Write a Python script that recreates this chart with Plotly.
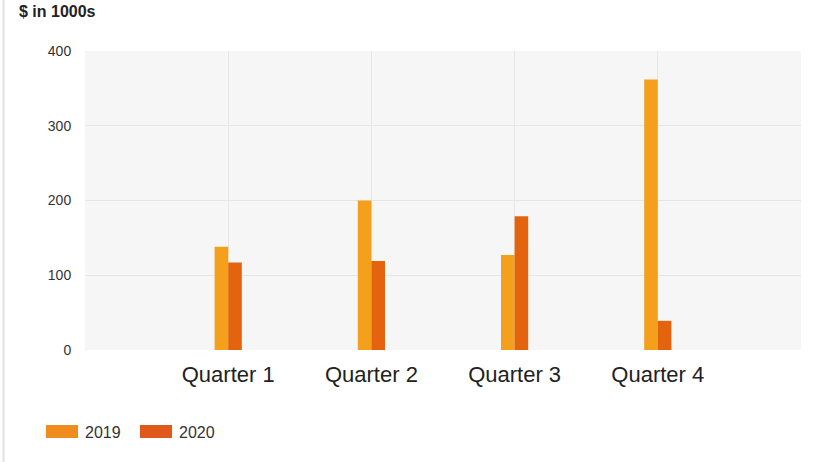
import plotly.graph_objects as go

categories = ["Quarter 1", "Quarter 2", "Quarter 3", "Quarter 4"]
series_names = ["2019", "2020"]
values_2019 = [138, 200, 127, 362]
values_2020 = [117, 119, 179, 39]
y_ticks = [0, 100, 200, 300, 400]

bar_colors = ["#F5A01C", "#E4630F"]
legend_colors = ["#F08C1E", "#E0581A"]

W, H = 833, 462
ML, MR, MT, MB = 85, 32, 51, 112
PW, PH = W - ML - MR, H - MT - MB

def px_x(x):
    return (x - ML) / PW

def px_y(y):
    return (H - MB - y) / PH

fig = go.Figure()
for name, vals, col in zip(series_names, [values_2019, values_2020], bar_colors):
    fig.add_trace(go.Bar(
        x=categories, y=vals, name=name,
        marker=dict(color=col, line=dict(width=0)),
        showlegend=False,
    ))

shapes = [
    dict(type="line", xref="paper", yref="paper",
         x0=px_x(3.5), x1=px_x(3.5), y0=px_y(0), y1=px_y(H),
         line=dict(color="#E2E2E2", width=2)),
]
annotations = [
    dict(text="<b>$ in 1000s</b>", xref="paper", yref="paper",
         x=px_x(17), y=px_y(11), xanchor="left", yanchor="middle",
         showarrow=False, font=dict(family="Liberation Sans, Arial", size=16, color="#222222")),
]
leg_x = [46, 140]
for i, name in enumerate(series_names):
    x0 = leg_x[i]
    shapes.append(dict(type="rect", xref="paper", yref="paper",
                       x0=px_x(x0), x1=px_x(x0 + 32), y0=px_y(425), y1=px_y(438),
                       fillcolor=legend_colors[i], line=dict(width=0)))
    annotations.append(dict(text=name, xref="paper", yref="paper",
                            x=px_x(x0 + 37), y=px_y(432), xanchor="left", yanchor="middle",
                            showarrow=False,
                            font=dict(family="Liberation Sans, Arial", size=16, color="#333333")))

fig.update_layout(
    width=W, height=H,
    margin=dict(l=ML, r=MR, t=MT, b=MB, pad=0),
    paper_bgcolor="white",
    plot_bgcolor="#F6F6F6",
    barmode="group",
    bargap=0.81,
    bargroupgap=0,
    shapes=shapes,
    annotations=annotations,
    xaxis=dict(
        type="category", range=[-1, 4],
        showgrid=True, gridcolor="#E6E6E6", gridwidth=1,
        zeroline=False, showline=False,
        ticks="outside", ticklen=5, tickcolor="rgba(0,0,0,0)",
        tickfont=dict(family="Liberation Sans, Arial", size=22, color="#222222"),
    ),
    yaxis=dict(
        range=[0, 400], tickvals=y_ticks,
        showgrid=True, gridcolor="#E6E6E6", gridwidth=1,
        zeroline=False, showline=False,
        ticks="outside", ticklen=10, tickcolor="rgba(0,0,0,0)",
        tickfont=dict(family="Liberation Sans, Arial", size=14, color="#333333"),
    ),
)

fig.write_html("out.html")
